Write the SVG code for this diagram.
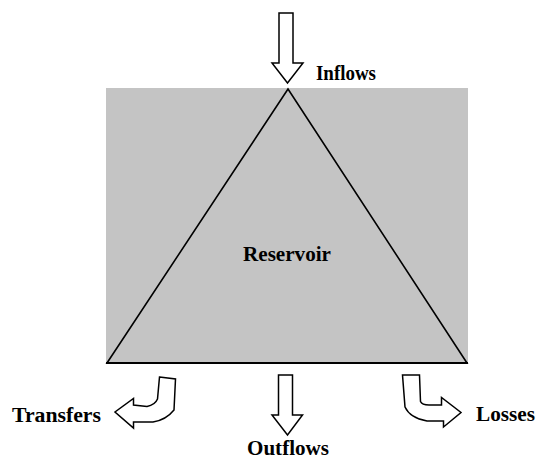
<svg xmlns="http://www.w3.org/2000/svg" width="539" height="462" viewBox="0 0 539 462">
<style>
.lbl{font-family:"Liberation Serif","Times New Roman",serif;font-weight:bold;font-size:20px;fill:#000}
.arr{fill:#fff;stroke:#000;stroke-width:1.5;stroke-linejoin:miter}
</style>
<rect x="0" y="0" width="539" height="462" fill="#fff"/>
<g id="reservoir">
<rect x="106" y="88" width="362" height="275" fill="#c4c4c4"/>
<polygon points="107,363 288,89 467,363" fill="none" stroke="#000" stroke-width="1.6"/>
<line x1="106" y1="363" x2="468" y2="363" stroke="#000" stroke-width="2"/>
<text class="lbl" x="243" y="261" textLength="88" lengthAdjust="spacingAndGlyphs">Reservoir</text>
</g>
<g id="connectors">
<g id="inflows">
<polygon class="arr" points="279,13 293,13 293,63 303,63 287.5,83 272,63 279,63"/>
<text class="lbl" x="316" y="80" textLength="60" lengthAdjust="spacingAndGlyphs">Inflows</text>
</g>
<g id="outflows">
<polygon class="arr" points="278.5,375 292.5,375 292.5,415 302.5,415 287.5,435 272,415 278.5,415"/>
<text class="lbl" x="247" y="455" textLength="82" lengthAdjust="spacingAndGlyphs">Outflows</text>
</g>
<g id="transfers">
<path class="arr" d="M159.5,377 L175.5,379 L174,410 Q166,420 153,422 L133.5,422 L133.5,428 L115,412 L133.5,398.5 L133.5,405 L147,406.5 Q155,405 157.5,399 Z"/>
<text class="lbl" x="12" y="422" textLength="89" lengthAdjust="spacingAndGlyphs">Transfers</text>
</g>
<g id="losses">
<path class="arr" d="M402.5,375 L419.5,375 L420.5,401.5 Q422,405 429,405 L441.5,405 L441.5,397.5 L461,412.5 L443.5,427 L443.5,421 L427,421 Q410,418 405,407 Z"/>
<text class="lbl" x="476" y="421" textLength="59" lengthAdjust="spacingAndGlyphs">Losses</text>
</g>
</g>
</svg>
